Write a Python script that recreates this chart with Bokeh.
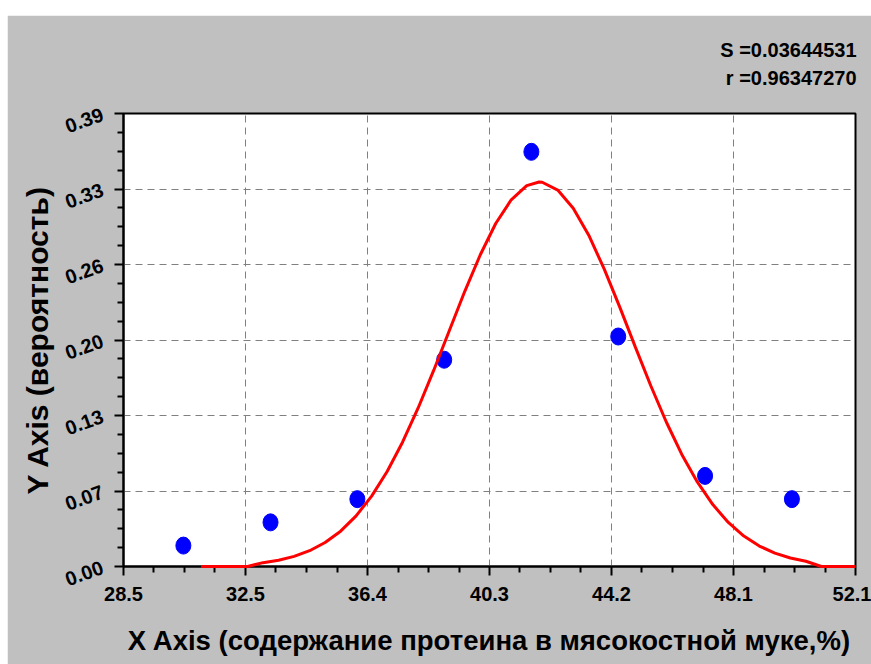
from bokeh.plotting import figure
from bokeh.models import FixedTicker, Range1d, Title
from bokeh.embed import file_html
from bokeh.resources import INLINE

# Observed frequencies (points)
x_points = [30.43, 33.24, 36.04, 38.84, 41.65, 44.45, 47.25, 50.05]
y_points = [0.018, 0.038, 0.058, 0.178, 0.357, 0.198, 0.078, 0.058]

# Fitted curve
curve_x = [31.0, 31.5, 32.0, 32.5, 33.0, 33.5, 34.0, 34.5, 35.0, 35.5, 36.0, 36.5,
           37.0, 37.5, 38.0, 38.5, 39.0, 39.5, 40.0, 40.5, 41.0, 41.5, 41.9, 42.0,
           42.5, 43.0, 43.5, 44.0, 44.5, 45.0, 45.5, 46.0, 46.5, 47.0, 47.5, 48.0,
           48.5, 49.0, 49.5, 50.0, 50.5, 51.0, 51.5, 52.0, 52.1]
curve_y = [0.0, 0.0, 0.0, 0.0, 0.0033, 0.0054, 0.0087, 0.0136, 0.0207, 0.0304, 0.0436, 0.0606,
           0.0818, 0.1072, 0.1365, 0.1688, 0.2028, 0.2367, 0.2682, 0.2953, 0.3157, 0.3279, 0.331, 0.3308,
           0.3241, 0.3085, 0.2852, 0.2560, 0.2233, 0.1891, 0.1556, 0.1244, 0.0965, 0.0728, 0.0533, 0.0379,
           0.0262, 0.0176, 0.0115, 0.0073, 0.0045, 0.0, 0.0, 0.0, 0.0]

x_ticks = [28.5, 32.4333, 36.3667, 40.3, 44.2333, 48.1667, 52.1]
x_tick_labels = ["28.5", "32.5", "36.4", "40.3", "44.2", "48.1", "52.1"]
y_ticks = [0.0, 0.065, 0.13, 0.195, 0.26, 0.325, 0.39]
y_tick_labels = ["0.00", "0.07", "0.13", "0.20", "0.26", "0.33", "0.39"]

x_title = "X Axis (содержание протеина в мясокостной муке,%)"
y_title = "Y Axis (вероятность)"
stat_lines = ["S =0.03644531", "r =0.96347270"]

FONT = "Liberation Sans"
GRAY = "#c0c0c0"


def minors(ticks):
    out = []
    for a, b in zip(ticks[:-1], ticks[1:]):
        step = (b - a) / 4
        out += [a + step * k for k in (1, 2, 3)]
    return out


p = figure(width=864, height=649, margin=(15, 0, 0, 7),
           x_range=Range1d(x_ticks[0], x_ticks[-1]),
           y_range=Range1d(y_ticks[0], y_ticks[-1]),
           output_backend="svg", toolbar_location=None,
           min_border_left=116, min_border_right=16,
           min_border_top=98, min_border_bottom=98,
           background_fill_color="white", border_fill_color=GRAY,
           outline_line_color="black", outline_line_width=2)

p.xaxis.ticker = FixedTicker(ticks=x_ticks, minor_ticks=minors(x_ticks))
p.yaxis.ticker = FixedTicker(ticks=y_ticks, minor_ticks=minors(y_ticks))
p.xaxis.major_label_overrides = dict(zip(x_ticks, x_tick_labels))
p.yaxis.major_label_overrides = dict(zip(y_ticks, y_tick_labels))

for ax in (p.xaxis[0], p.yaxis[0]):
    ax.axis_line_color = "black"
    ax.axis_line_width = 2
    ax.major_tick_line_color = "black"
    ax.major_tick_line_width = 2
    ax.minor_tick_line_color = "black"
    ax.minor_tick_line_width = 2
    ax.major_tick_in = 0
    ax.major_tick_out = 9
    ax.minor_tick_in = 0
    ax.minor_tick_out = 6
    ax.major_label_text_font = FONT
    ax.major_label_text_font_style = "bold"
    ax.major_label_text_font_size = "20px"
    ax.major_label_text_color = "black"
    ax.axis_label_text_font = FONT
    ax.axis_label_text_font_style = "bold"
    ax.axis_label_text_color = "black"

p.xaxis.major_label_standoff = 11
p.xaxis.axis_label = x_title
p.xaxis.axis_label_text_font_size = "27.5px"
p.xaxis.axis_label_standoff = 21

p.yaxis.major_label_orientation = 0.35
p.yaxis.major_label_standoff = 12
p.yaxis.axis_label = y_title
p.yaxis.axis_label_text_font_size = "30px"
p.yaxis.axis_label_standoff = 4

for g in (p.xgrid[0], p.ygrid[0]):
    g.grid_line_color = "#808080"
    g.grid_line_width = 1
    g.grid_line_dash = "7 5"

curve = p.line(curve_x, curve_y, line_color="#ff0000", line_width=3)
curve.level = "overlay"
p.ellipse(x=x_points, y=y_points, width=15, height=17,
          width_units="screen", height_units="screen",
          fill_color="#0000ff", line_color="#0000ff")

# statistics, right-aligned above the frame (first added = nearest the frame)
for t, gap in zip(reversed(stat_lines), (50, -43)):
    p.add_layout(Title(text=t, align="right", text_font=FONT, text_font_style="bold",
                       text_font_size="20px", text_color="black",
                       standoff=gap, offset=-1), "above")

open("out.html", "w").write(file_html(p, INLINE))
